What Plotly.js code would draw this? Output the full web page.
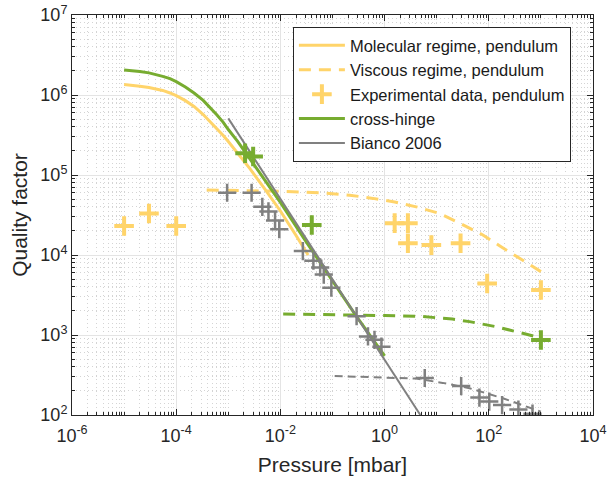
<!DOCTYPE html>
<html>
<head>
<meta charset="utf-8">
<script src="https://cdn.plot.ly/plotly-3.0.1.min.js"></script>
<style>html,body{margin:0;padding:0;background:#fff;}#chart{width:608px;height:484px;}</style>
</head>
<body>
<div id="chart"></div>
<script>
// Molecular regime, pendulum (yellow solid)
const molP = [1e-5, 1.5e-5, 2e-5, 3e-5, 4e-5, 5.5e-5, 7.6e-5, 1e-4, 1.5e-4, 2.2e-4, 3.3e-4, 4.5e-4, 6e-4, 8e-4, 1e-3, 1.5e-3, 2.6e-3, 5e-3, 1e-2, 0.02, 0.034];
const molQ = [1.35e6, 1.32e6, 1.29e6, 1.24e6, 1.2e6, 1.14e6, 1.06e6, 9.8e5, 8.5e5, 7.2e5, 5.7e5, 4.65e5, 3.85e5, 3.12e5, 2.62e5, 1.88e5, 1.2e5, 6.7e4, 3.55e4, 1.75e4, 1.0e4];
// Viscous regime, pendulum (yellow dashed)
const viscP = [3.85e-4, 1e-3, 1e-2, 0.057, 0.214, 0.6, 1.56, 4.06, 11.4, 27.5, 77, 172, 390, 870, 1000];
const viscQ = [6.5e4, 6.45e4, 6.25e4, 6.0e4, 5.6e4, 5.1e4, 4.6e4, 4.0e4, 3.3e4, 2.5e4, 1.78e4, 1.27e4, 9.1e3, 6.5e3, 6.2e3];
// Experimental data, pendulum (yellow +)
const expP = [1e-5, 3e-5, 1e-4, 1.56, 2.8, 2.8, 7.9, 28.7, 93, 1000];
const expQ = [2.3e4, 3.3e4, 2.3e4, 2.5e4, 2.5e4, 1.4e4, 1.33e4, 1.4e4, 4.4e3, 3.65e3];
// cross-hinge (green solid)
const chP = [1e-5, 1.5e-5, 2e-5, 3e-5, 4e-5, 5.5e-5, 7.6e-5, 1e-4, 1.5e-4, 2.2e-4, 3.3e-4, 4.5e-4, 6e-4, 8e-4, 1e-3, 1.5e-3, 2.6e-3, 5e-3, 1e-2, 0.03, 0.1, 0.286, 1];
const chQ = [2.05e6, 2.01e6, 1.97e6, 1.89e6, 1.82e6, 1.71e6, 1.6e6, 1.47e6, 1.26e6, 1.06e6, 8.55e5, 6.95e5, 5.65e5, 4.55e5, 3.7e5, 2.65e5, 1.58e5, 8.6e4, 4.55e4, 1.52e4, 4.8e3, 1.72e3, 550];
// cross-hinge viscous (green dashed)
const chvP = [0.0113, 0.119, 1, 5.4, 20, 42.7, 138, 447, 1000];
const chvQ = [1.83e3, 1.8e3, 1.75e3, 1.7e3, 1.58e3, 1.47e3, 1.27e3, 1.05e3, 920];
// cross-hinge data (green +)
const chdP = [2.1e-3, 3.0e-3, 0.04, 1000];
const chdQ = [1.87e5, 1.7e5, 2.37e4, 866];
// Bianco 2006 (gray solid)
const biP = [1e-3, 4.85];
const biQ = [5.1e5, 100];
// Bianco viscous (gray dashed)
const bivP = [0.11, 1.68, 4.06, 13, 42.7, 186, 690, 1000];
const bivQ = [307, 292, 285, 252, 216, 162, 121, 110];
// Bianco data (gray +)
const bidP = [9.5e-4, 2.8e-3, 4.5e-3, 5.9e-3, 7.9e-3, 9.5e-3, 0.027, 0.043, 0.058, 0.068, 0.095, 0.29, 0.48, 0.64, 0.87, 5.9, 29.5, 66, 102, 180, 370, 690];
const bidQ = [6.0e4, 6.0e4, 4.0e4, 3.5e4, 2.7e4, 2.1e4, 1.12e4, 8.5e3, 7.0e3, 5.7e3, 3.9e3, 1.72e3, 960, 870, 715, 290, 230, 165, 147, 133, 117, 104];

const xTickVals = [1e-6, 1e-4, 1e-2, 1, 1e2, 1e4];
const xTickText = ['10<sup>-6</sup>', '10<sup>-4</sup>', '10<sup>-2</sup>', '10<sup>0</sup>', '10<sup>2</sup>', '10<sup>4</sup>'];
const yTickVals = [1e2, 1e3, 1e4, 1e5, 1e6, 1e7];
const yTickText = ['10<sup>2</sup>', '10<sup>3</sup>', '10<sup>4</sup>', '10<sup>5</sup>', '10<sup>6</sup>', '10<sup>7</sup>'];

const YEL = '#FFD46A', GRN = '#77AC30', GRY = '#808080';

function minorVals(lo, hi, skipMajor) {
  const v = [];
  for (let e = lo; e < hi; e++) {
    for (let d = 1; d <= 9; d++) {
      if (d === 1 && skipMajor.indexOf(e) >= 0) continue;
      v.push(d * Math.pow(10, e));
    }
  }
  return v;
}
const xMinor = minorVals(-6, 4, [-6, -4, -2, 0, 2]);
const yMinor = minorVals(2, 7, [2, 3, 4, 5, 6]);

const traces = [
  {x: molP, y: molQ, mode: 'lines', name: 'Molecular regime, pendulum', line: {color: YEL, width: 3}},
  {x: viscP, y: viscQ, mode: 'lines', name: 'Viscous regime, pendulum', line: {color: YEL, width: 3, dash: '12px,8px'}},
  {x: expP, y: expQ, mode: 'markers', name: 'Experimental data, pendulum', marker: {symbol: 'cross-thin-open', size: 14, color: YEL, line: {color: YEL, width: 4}}},
  {x: chP, y: chQ, mode: 'lines', name: 'cross-hinge', line: {color: GRN, width: 3}},
  {x: biP, y: biQ, mode: 'lines', name: 'Bianco 2006', line: {color: GRY, width: 2}},
  {x: chvP, y: chvQ, mode: 'lines', showlegend: false, line: {color: GRN, width: 3, dash: '12px,8px'}},
  {x: bivP, y: bivQ, mode: 'lines', showlegend: false, line: {color: GRY, width: 2, dash: '8px,5px'}},
  {x: bidP, y: bidQ, mode: 'markers', showlegend: false, marker: {symbol: 'cross-thin-open', size: 13, color: GRY, line: {color: GRY, width: 2.5}}},
  {x: chdP, y: chdQ, mode: 'markers', showlegend: false, marker: {symbol: 'cross-thin-open', size: 14, color: GRN, line: {color: GRN, width: 4}}}
];

const FONT = 'Liberation Sans, Arial, Helvetica, sans-serif';
const axisCommon = {
  type: 'log',
  showline: true, linecolor: '#262626', linewidth: 1, mirror: 'allticks',
  ticks: 'inside', ticklen: 6, tickcolor: '#262626',
  showgrid: true, gridcolor: '#e4e4e4', gridwidth: 1,
  zeroline: false,
  tickfont: {family: FONT, size: 18, color: '#262626'},
  tickmode: 'array'
};
const minorCommon = {tickmode: 'array', ticks: 'inside', ticklen: 3, tickcolor: '#262626',
  showgrid: true, gridcolor: '#d4d4d4', griddash: '1px,3px', gridwidth: 1};

const layout = {
  width: 608, height: 484,
  margin: {l: 72, r: 15, t: 15, b: 69},
  paper_bgcolor: '#fff', plot_bgcolor: '#fff',
  font: {family: FONT, color: '#262626'},
  xaxis: Object.assign({}, axisCommon, {
    range: [-6, 4], tickvals: xTickVals, ticktext: xTickText, ticklabelstandoff: 4,
    minor: Object.assign({tickvals: xMinor}, minorCommon),
    title: {text: 'Pressure [mbar]', font: {size: 21, color: '#262626'}, standoff: 12}
  }),
  yaxis: Object.assign({}, axisCommon, {
    range: [2, 7], tickvals: yTickVals, ticktext: yTickText,
    minor: Object.assign({tickvals: yMinor}, minorCommon),
    title: {text: 'Quality factor', font: {size: 21, color: '#262626'}, standoff: 7}
  }),
  legend: {
    x: 0.424, y: 0.97, xanchor: 'left', yanchor: 'top',
    bgcolor: '#fff', bordercolor: '#262626', borderwidth: 1,
    font: {family: FONT, size: 16.5, color: '#1a1a1a'},
    itemwidth: 46,
    tracegroupgap: 0
  },
  showlegend: true
};

Plotly.newPlot('chart', traces, layout, {staticPlot: true, displayModeBar: false});
</script>
</body>
</html>
